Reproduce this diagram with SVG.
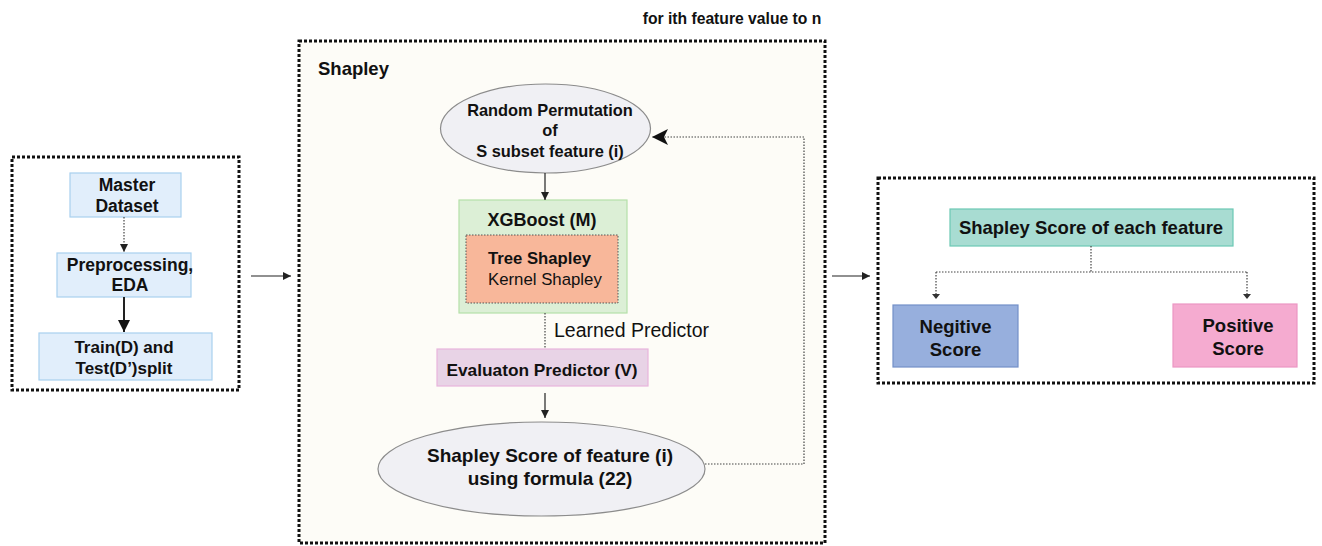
<svg xmlns="http://www.w3.org/2000/svg" width="1322" height="546" viewBox="0 0 1322 546">
<style>
text{font-family:"Liberation Sans",Arial,sans-serif;fill:#111;text-anchor:middle}
.b{font-weight:bold}
.frame{fill:none;stroke:#111;stroke-width:3;stroke-dasharray:3 2}
.blue{fill:#e1eefb;stroke:#a8d0ef;stroke-width:1.2}
.dot{fill:none;stroke:#444;stroke-width:1.2;stroke-dasharray:1.5 1.5}
.sol{fill:none;stroke:#222;stroke-width:1.2}
</style>
<defs>
<marker id="tri" viewBox="0 0 10 10" refX="10" refY="5" markerWidth="8" markerHeight="8" markerUnits="userSpaceOnUse" orient="auto"><path d="M0,0L10,5L0,10z" fill="#222"/></marker>
<marker id="triL" viewBox="0 0 10 10" refX="10" refY="5" markerWidth="12" markerHeight="12" markerUnits="userSpaceOnUse" orient="auto"><path d="M0,0L10,5L0,10z" fill="#111"/></marker>
<marker id="classic" viewBox="0 0 12 12" refX="12" refY="6" markerWidth="16" markerHeight="16" markerUnits="userSpaceOnUse" orient="auto"><path d="M0,0L12,6L0,12L3,6z" fill="#111"/></marker>
</defs>
<rect width="1322" height="546" fill="#fff"/>

<g id="left-group">
<rect class="frame" x="12" y="157" width="227" height="233"/>
</g>
<g id="master">
<rect class="blue" x="70" y="173" width="111" height="44"/>
<text class="b" x="127" y="191" font-size="17.5">Master</text>
<text class="b" x="127" y="212" font-size="17.5">Dataset</text>
</g>
<g id="preprocessing">
<rect class="blue" x="57" y="253" width="134" height="44"/>
<text class="b" x="130" y="271" font-size="17.5">Preprocessing,</text>
<text class="b" x="130" y="291" font-size="17.5">EDA</text>
</g>
<g id="split">
<rect class="blue" x="39" y="333" width="173" height="47"/>
<text class="b" x="124" y="353" font-size="17">Train(D) and</text>
<text class="b" x="124" y="374" font-size="17">Test(D’)split</text>
</g>

<g id="shapley-group">
<rect x="299" y="41" width="526" height="502" fill="#fdfcf7"/>
<rect class="frame" x="299" y="41" width="526" height="502"/>
<text class="b" x="318" y="75" font-size="18.5" style="text-anchor:start">Shapley</text>
</g>
<text class="b" x="732" y="24" font-size="15.7">for ith feature value to n</text>

<g id="permutation">
<ellipse cx="545.5" cy="128.5" rx="105" ry="44.5" fill="#f0f0f4" stroke="#8c8c8c" stroke-width="1.2"/>
<text class="b" x="550" y="116" font-size="16.4">Random Permutation</text>
<text class="b" x="550" y="136" font-size="16.4">of</text>
<text class="b" x="550" y="157" font-size="16.4">S subset feature (i)</text>
</g>
<g id="xgboost">
<rect x="459" y="200" width="168" height="113" fill="#dcefd6" stroke="#b5dfa8" stroke-width="1.2"/>
<text class="b" x="542" y="226" font-size="18">XGBoost (M)</text>
</g>
<g id="tree-shapley">
<rect x="466" y="235" width="152" height="68" fill="#f8b79a" stroke="#555" stroke-width="1" stroke-dasharray="1.5 1.5"/>
<text class="b" x="488" y="264" font-size="16.7" style="text-anchor:start">Tree Shapley</text>
<text x="488" y="285" font-size="16.8" style="text-anchor:start">Kernel Shapley</text>
</g>
<g id="evaluation">
<rect x="437" y="349" width="211" height="37" fill="#e8d3e6" stroke="#e8b5dc" stroke-width="1.2"/>
<text class="b" x="542" y="376" font-size="17.3">Evaluaton Predictor (V)</text>
</g>
<g id="shapley-score-feature">
<ellipse cx="541.5" cy="469" rx="163.5" ry="47" fill="#f0f0f4" stroke="#8c8c8c" stroke-width="1.2"/>
<text class="b" x="550" y="462" font-size="19">Shapley Score of feature (i)</text>
<text class="b" x="550" y="485" font-size="19">using formula (22)</text>
</g>

<g id="right-group">
<rect class="frame" x="878" y="178" width="436" height="205"/>
</g>
<g id="shapley-each">
<rect x="950" y="209" width="283" height="37" fill="#a8dcd2" stroke="#6cc9b4" stroke-width="1.2"/>
<text class="b" x="1091" y="234" font-size="18.5">Shapley Score of each feature</text>
</g>
<g id="negative">
<rect x="893" y="305" width="125" height="62" fill="#97afdd" stroke="#7390c8" stroke-width="1.2"/>
<text class="b" x="955.5" y="333" font-size="18.5">Negitive</text>
<text class="b" x="955.5" y="356" font-size="18.5">Score</text>
</g>
<g id="positive">
<rect x="1173" y="304" width="124" height="63" fill="#f5abd0" stroke="#eb97c4" stroke-width="1.2"/>
<text class="b" x="1238" y="332" font-size="18.5">Positive</text>
<text class="b" x="1238" y="355" font-size="18.5">Score</text>
</g>

<g id="connectors">
<path class="dot" d="M124,217V252" marker-end="url(#tri)"/>
<path d="M124,297V332" fill="none" stroke="#222" stroke-width="2" marker-end="url(#triL)"/>
<path class="sol" d="M251,276H291" marker-end="url(#tri)"/>
<path class="sol" d="M545,173V200" marker-end="url(#tri)"/>
<path class="dot" d="M545,313V349"/>
<text x="554" y="337" font-size="19.5" style="text-anchor:start">Learned Predictor</text>
<path class="sol" d="M545,393V418" marker-end="url(#tri)"/>
<path class="dot" d="M705,464H804V137H652" marker-end="url(#classic)"/>
<path class="sol" d="M832,276H870" marker-end="url(#tri)"/>
<path class="dot" d="M1091,246V272M936,272H1247M936,272V298M1247,272V298"/>
<path d="M932,294L936,299L940,294z M1243,294L1247,299L1251,294z" fill="#333"/>
</g>
</svg>
